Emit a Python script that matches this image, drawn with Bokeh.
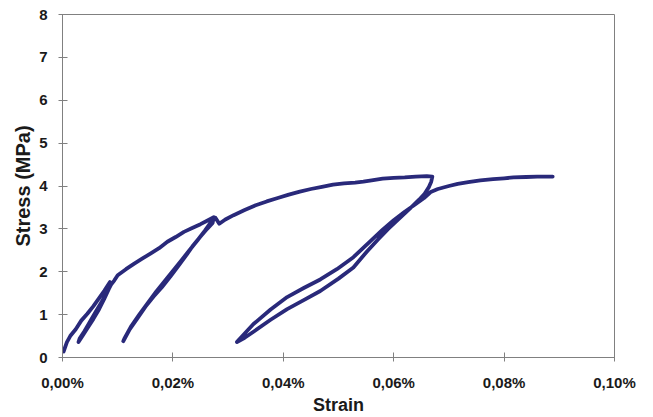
from bokeh.plotting import figure
from bokeh.models import FixedTicker, CustomJSTickFormatter, Range1d
from bokeh.embed import file_html
from bokeh.resources import INLINE

# ---- data (strain in %, stress in MPa) ----
env_a_x = [0.0002, 0.0008, 0.0014, 0.0024, 0.0034, 0.0045, 0.0056, 0.0066, 0.0076, 0.0086]
env_a_y = [0.14, 0.36, 0.50, 0.66, 0.86, 1.02, 1.20, 1.38, 1.56, 1.76]

unload1_x = [0.0084, 0.0076, 0.0066, 0.0056, 0.0046, 0.0037, 0.0029]
unload1_y = [1.60, 1.38, 1.12, 0.90, 0.70, 0.52, 0.36]
reload1_x = [0.0031, 0.0040, 0.0050, 0.0060, 0.0070, 0.0080, 0.0088, 0.0094]
reload1_y = [0.44, 0.62, 0.84, 1.06, 1.28, 1.50, 1.70, 1.80]

env_b_x = [0.0100, 0.0115, 0.0130, 0.0145, 0.0160, 0.0175, 0.0190, 0.0205, 0.0220, 0.0235, 0.0250, 0.0262, 0.0274]
env_b_y = [1.92, 2.06, 2.19, 2.31, 2.43, 2.55, 2.70, 2.81, 2.93, 3.02, 3.11, 3.19, 3.27]

unload2_x = [0.0272, 0.0262, 0.0250, 0.0237, 0.0225, 0.0210, 0.0195, 0.0180, 0.0165, 0.0150, 0.0135, 0.0122, 0.0110]
unload2_y = [3.14, 3.00, 2.82, 2.62, 2.40, 2.14, 1.88, 1.64, 1.42, 1.18, 0.90, 0.66, 0.38]
reload2_x = [0.0112, 0.0125, 0.0140, 0.0155, 0.0170, 0.0185, 0.0200, 0.0215, 0.0230, 0.0245, 0.0258, 0.0268, 0.0277]
reload2_y = [0.44, 0.74, 1.02, 1.28, 1.54, 1.78, 2.02, 2.26, 2.50, 2.74, 2.96, 3.14, 3.26]

env_c_x = [0.0284, 0.0295, 0.0310, 0.0330, 0.0350, 0.0370, 0.0390, 0.0410, 0.0430, 0.0450, 0.0470,
           0.0490, 0.0510, 0.0530, 0.0545, 0.0560, 0.0580, 0.0600, 0.0620, 0.0640, 0.0660, 0.0670]
env_c_y = [3.12, 3.22, 3.32, 3.44, 3.55, 3.64, 3.72, 3.80, 3.87, 3.93, 3.98,
           4.03, 4.06, 4.08, 4.10, 4.13, 4.17, 4.19, 4.20, 4.22, 4.23, 4.22]

unload3_x = [0.0668, 0.0664, 0.0656, 0.0646, 0.0634, 0.0620, 0.0605, 0.0590, 0.0572, 0.0552,
             0.0527, 0.0500, 0.0467, 0.0437, 0.0407, 0.0377, 0.0346, 0.0330, 0.0316]
unload3_y = [4.10, 3.98, 3.82, 3.68, 3.53, 3.36, 3.18, 3.00, 2.76, 2.48,
             2.10, 1.84, 1.55, 1.34, 1.13, 0.88, 0.60, 0.46, 0.36]
reload3_x = [0.0320, 0.0333, 0.0346, 0.0377, 0.0407, 0.0437, 0.0467, 0.0497, 0.0527, 0.0555,
             0.0580, 0.0600, 0.0620, 0.0640, 0.0655, 0.0667]
reload3_y = [0.42, 0.60, 0.78, 1.12, 1.41, 1.62, 1.82, 2.06, 2.34, 2.68,
             2.98, 3.20, 3.40, 3.58, 3.72, 3.86]

env_d_x = [0.0680, 0.0700, 0.0716, 0.0735, 0.0757, 0.0780, 0.0800, 0.0817, 0.0840, 0.0860, 0.0888]
env_d_y = [3.93, 4.00, 4.05, 4.09, 4.13, 4.16, 4.18, 4.20, 4.21, 4.22, 4.22]

x_ticks = [0.0, 0.02, 0.04, 0.06, 0.08, 0.10]
y_ticks = [0, 1, 2, 3, 4, 5, 6, 7, 8]

strain = (env_a_x + unload1_x + reload1_x + env_b_x + unload2_x + reload2_x
          + env_c_x + unload3_x + reload3_x + env_d_x)
stress = (env_a_y + unload1_y + reload1_y + env_b_y + unload2_y + reload2_y
          + env_c_y + unload3_y + reload3_y + env_d_y)

FONT = "Liberation Sans"
AX = "#808080"

p = figure(width=650, height=417, output_backend="svg", toolbar_location=None,
           x_range=Range1d(0, 0.1), y_range=Range1d(0, 8),
           min_border_left=62, min_border_right=36, min_border_top=14, min_border_bottom=60)
p.background_fill_color = "white"
p.border_fill_color = "white"
p.outline_line_color = AX
p.outline_line_width = 1
p.grid.visible = False

p.line(strain, stress, line_color="#29297a", line_width=3.8, line_join="round", line_cap="round")

p.xaxis.ticker = FixedTicker(ticks=x_ticks, minor_ticks=[])
p.yaxis.ticker = FixedTicker(ticks=y_ticks, minor_ticks=[])
p.xaxis.formatter = CustomJSTickFormatter(code="return tick.toFixed(2).replace('.', ',') + '%';")

for ax in (p.xaxis[0], p.yaxis[0]):
    ax.axis_line_color = AX
    ax.major_tick_line_color = AX
    ax.minor_tick_line_color = None
    ax.major_tick_in = 5
    ax.major_tick_out = 4
    ax.major_label_text_font = FONT
    ax.major_label_text_font_style = "bold"
    ax.major_label_text_font_size = "15px"
    ax.major_label_text_color = "#1a1a1a"
    ax.axis_label_text_font = FONT
    ax.axis_label_text_font_style = "bold"
    ax.axis_label_text_color = "#1a1a1a"

p.xaxis.axis_label = "Strain"
p.yaxis.axis_label = "Stress (MPa)"
p.xaxis.axis_label_text_font_size = "18px"
p.yaxis.axis_label_text_font_size = "20px"
p.xaxis.major_label_standoff = 12
p.xaxis.axis_label_standoff = 1
p.yaxis.major_label_standoff = 11
p.yaxis.axis_label_standoff = 2

open("out.html", "w").write(file_html(p, INLINE))
